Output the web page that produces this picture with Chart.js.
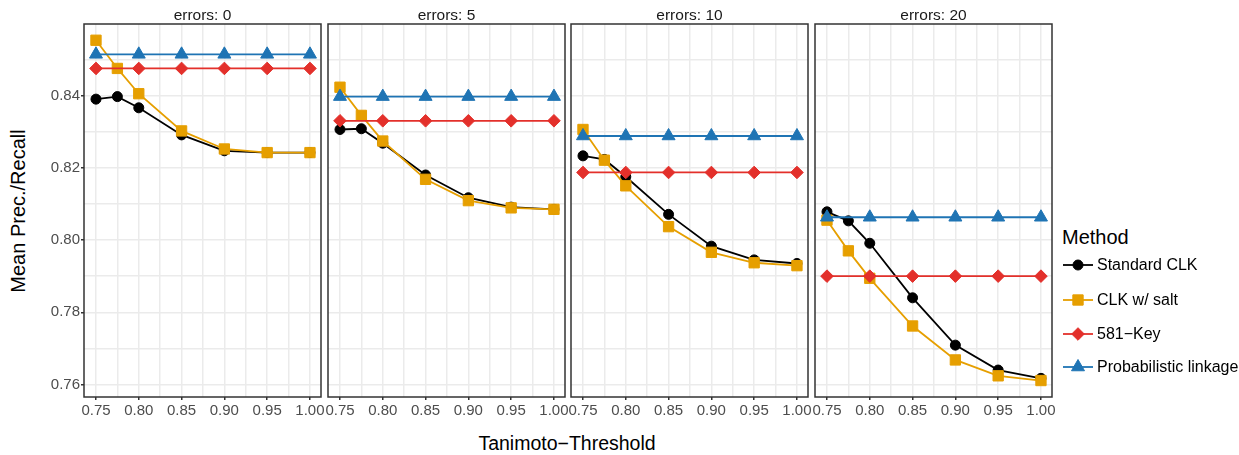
<!DOCTYPE html>
<html>
<head>
<meta charset="utf-8">
<script src="https://cdn.jsdelivr.net/npm/chart.js@4.4.0/dist/chart.umd.min.js"></script>
<style>
  body { margin: 0; width: 1239px; height: 455px; overflow: hidden; background: #fff; position: relative;
         font-family: "Liberation Sans", Arial, sans-serif; }
  canvas { position: absolute; top: 0; }
  .strip { position: absolute; top: 6px; width: 237px; text-align: center; font-size: 15.5px; line-height: 18px; color: #1a1a1a; }
  .ytitle { position: absolute; left: 18px; top: 211px; transform: translate(-50%, -50%) rotate(-90deg); font-size: 20px; white-space: nowrap; }
  .xtitle { position: absolute; left: 567px; top: 443px; transform: translate(-50%, -50%); font-size: 19.5px; white-space: nowrap; }
  .legtitle { position: absolute; left: 1062px; top: 237px; transform: translateY(-50%); font-size: 20px; }
  .legitem { position: absolute; left: 1062px; height: 20px; font-size: 16px; line-height: 20px; white-space: nowrap; }
  .legitem canvas { position: static; vertical-align: top; margin-right: 3px; }
</style>
</head>
<body>
<div class="ytitle">Mean Prec./Recall</div>
<div class="xtitle">Tanimoto&minus;Threshold</div>
<div class="legtitle">Method</div>

<script>
// DATOS
const errorLevels = [0, 5, 10, 20];
const thresholds = [0.75, 0.775, 0.80, 0.85, 0.90, 0.95, 1.00];
const keyThresholds = [0.75, 0.80, 0.85, 0.90, 0.95, 1.00];

// one row per error level
const standardClk = [
    [0.8390, 0.8397, 0.8366, 0.8291, 0.8247, 0.8242, 0.8242],
    [0.8306, 0.8308, 0.8268, 0.8180, 0.8117, 0.8091, 0.8085],
    [0.8233, 0.8223, 0.8175, 0.8071, 0.7983, 0.7945, 0.7935],
    [0.8078, 0.8053, 0.7991, 0.7840, 0.7709, 0.7640, 0.7617]
];
const clkSalt = [
    [0.8553, 0.8475, 0.8405, 0.8302, 0.8252, 0.8242, 0.8242],
    [0.8423, 0.8345, 0.8274, 0.8168, 0.8109, 0.8089, 0.8085],
    [0.8306, 0.8221, 0.8150, 0.8037, 0.7966, 0.7937, 0.7929],
    [0.8055, 0.7970, 0.7894, 0.7762, 0.7668, 0.7624, 0.7611]
];
const key581 = [
    [0.8475, 0.8475, 0.8475, 0.8475, 0.8475, 0.8475],
    [0.8330, 0.8330, 0.8330, 0.8330, 0.8330, 0.8330],
    [0.8187, 0.8187, 0.8187, 0.8187, 0.8187, 0.8187],
    [0.7900, 0.7900, 0.7900, 0.7900, 0.7900, 0.7900]
];
const probLinkage = [
    [0.8514, 0.8514, 0.8514, 0.8514, 0.8514, 0.8514],
    [0.8397, 0.8397, 0.8397, 0.8397, 0.8397, 0.8397],
    [0.8288, 0.8288, 0.8288, 0.8288, 0.8288, 0.8288],
    [0.8063, 0.8063, 0.8063, 0.8063, 0.8063, 0.8063]
];
const xTicks = ['0.75', '0.80', '0.85', '0.90', '0.95', '1.00'];
const yTicks = ['0.76', '0.78', '0.80', '0.82', '0.84'];

const methods = [
    { label: 'Standard CLK', color: '#000000', style: 'circle', radius: 5, order: 4 },
    { label: 'CLK w/ salt', color: '#E69F00', style: 'rect', radius: 7.3, order: 3 },
    { label: '581\u2212Key', color: '#E3302B', style: 'rectRot', radius: 6.3, order: 2 },
    { label: 'Probabilistic linkage', color: '#1F74B4', style: 'triangle', radius: 7.5, order: 1 }
];
// ----------------

const FUENTE = "'Liberation Sans', Arial, sans-serif";
const panelLeft = [84, 328, 571, 815];
const panelWidth = 237;

const esMayor = (v, paso) => xTicks.concat(yTicks).includes(v.toFixed(2)) && Math.abs(v / paso - Math.round(v / paso)) < 1e-6;

const bordePanel = {
    id: 'bordePanel',
    afterDraw(chart) {
        const { ctx, chartArea: a } = chart;
        ctx.save();
        ctx.strokeStyle = '#333333';
        ctx.lineWidth = 1.5;
        ctx.strokeRect(a.left, a.top, a.width, a.height);
        ctx.restore();
    }
};

const serie = (m, xs, ys) => ({
    label: m.label,
    data: xs.map((x, j) => ({ x: x, y: ys[j] })),
    borderColor: m.color,
    backgroundColor: m.color,
    borderWidth: 1.8,
    pointStyle: m.style,
    pointRadius: m.radius,
    pointBorderWidth: 1,
    pointBorderColor: m.color,
    pointBackgroundColor: m.color,
    order: m.order,
    clip: false
});

errorLevels.forEach((err, i) => {
    const primero = i === 0;
    const izq = primero ? 0 : panelLeft[i] - 20;
    const padIzq = primero ? 0 : 20;
    const ancho = panelLeft[i] - izq + panelWidth + 20;

    const canvas = document.createElement('canvas');
    canvas.width = ancho;
    canvas.height = 455;
    canvas.style.left = izq + 'px';
    document.body.appendChild(canvas);

    const strip = document.createElement('div');
    strip.className = 'strip';
    strip.style.left = panelLeft[i] + 'px';
    strip.textContent = 'errors: ' + err;
    document.body.appendChild(strip);

    new Chart(canvas, {
        type: 'line',
        data: {
            datasets: [
                serie(methods[0], thresholds, standardClk[i]),
                serie(methods[1], thresholds, clkSalt[i]),
                serie(methods[2], keyThresholds, key581[i]),
                serie(methods[3], keyThresholds, probLinkage[i])
            ]
        },
        options: {
            responsive: false,
            animation: false,
            devicePixelRatio: 1,
            layout: { padding: { left: padIzq, right: 20, top: 24, bottom: 0 } },
            plugins: { legend: { display: false }, tooltip: { enabled: false } },
            scales: {
                x: {
                    type: 'linear',
                    min: 0.736,
                    max: 1.0129,
                    afterFit: s => { s.height = 58; },
                    border: { display: false },
                    grid: {
                        color: '#EBEBEB',
                        lineWidth: 1.5,
                        tickLength: 3,
                        tickColor: c => esMayor(c.tick.value, 0.05) ? '#333333' : 'rgba(0,0,0,0)'
                    },
                    ticks: {
                        stepSize: 0.025,
                        includeBounds: false,
                        autoSkip: false,
                        maxRotation: 0,
                        padding: 2,
                        color: '#4D4D4D',
                        font: { family: FUENTE, size: 15 },
                        callback: v => esMayor(v, 0.05) ? v.toFixed(2) : ''
                    }
                },
                y: {
                    type: 'linear',
                    min: 0.75654,
                    max: 0.8598,
                    afterFit: s => { s.width = primero ? 84 : 0; },
                    border: { display: false },
                    grid: {
                        color: '#EBEBEB',
                        lineWidth: 1.5,
                        drawTicks: primero,
                        tickLength: 3,
                        tickColor: c => esMayor(c.tick.value, 0.02) ? '#333333' : 'rgba(0,0,0,0)'
                    },
                    ticks: {
                        display: primero,
                        stepSize: 0.01,
                        includeBounds: false,
                        padding: 1,
                        color: '#4D4D4D',
                        font: { family: FUENTE, size: 15 },
                        callback: v => esMayor(v, 0.02) ? v.toFixed(2) : ''
                    }
                }
            }
        },
        plugins: [bordePanel]
    });
});

// LEYENDA
const legendaY = [265, 300, 334, 367];
methods.forEach((m, k) => {
    const item = document.createElement('div');
    item.className = 'legitem';
    item.style.top = (legendaY[k] - 10) + 'px';
    const c = document.createElement('canvas');
    c.width = 32;
    c.height = 20;
    const g = c.getContext('2d');
    g.strokeStyle = m.color;
    g.fillStyle = m.color;
    g.lineWidth = 1.8;
    g.beginPath();
    g.moveTo(1, 10);
    g.lineTo(31, 10);
    g.stroke();
    g.lineWidth = 1;
    if (Chart.helpers && Chart.helpers.drawPoint) {
        Chart.helpers.drawPoint(g, { pointStyle: m.style, radius: m.radius, rotation: 0, borderWidth: 1 }, 16, 10);
    } else {
        g.beginPath();
        g.arc(16, 10, 5, 0, Math.PI * 2);
        g.fill();
    }
    item.appendChild(c);
    item.appendChild(document.createTextNode(m.label));
    document.body.appendChild(item);
});
</script>
</body>
</html>
